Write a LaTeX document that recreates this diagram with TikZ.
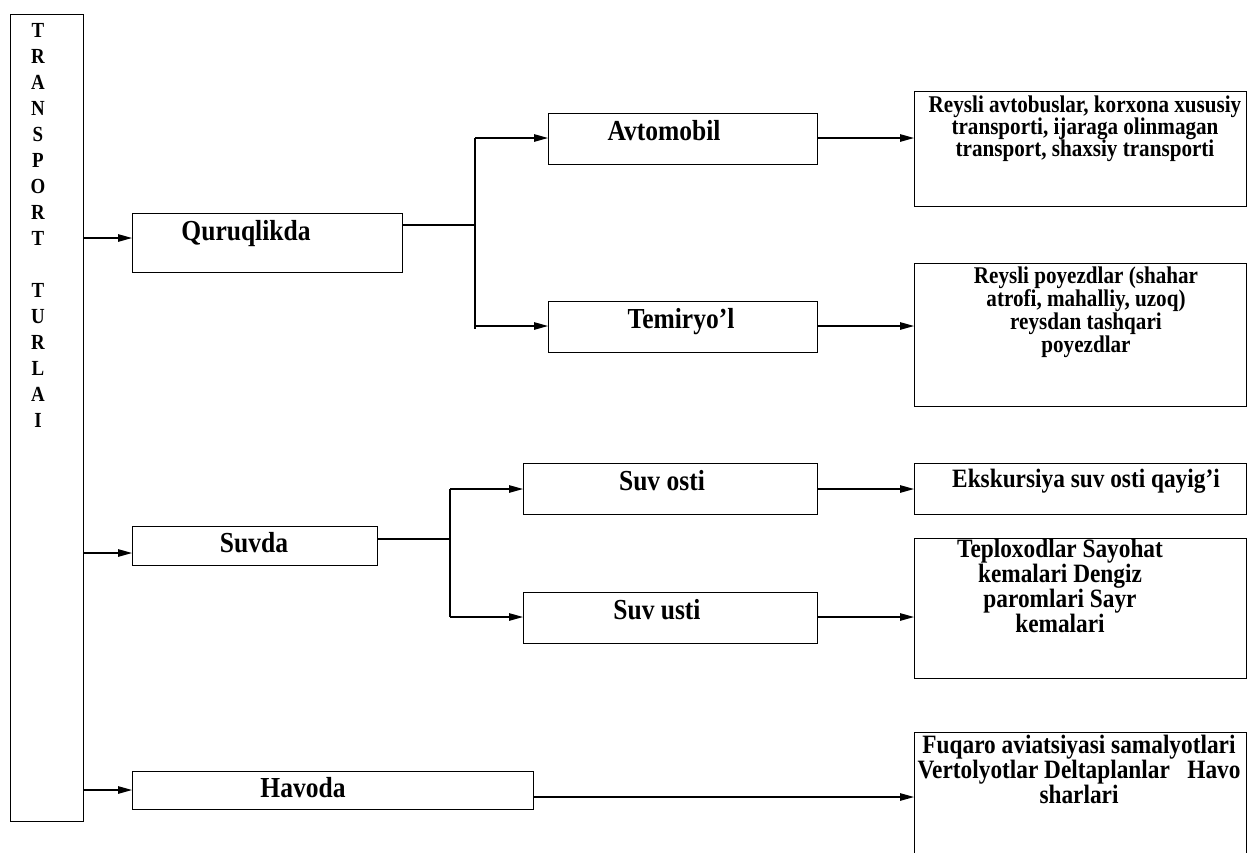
\documentclass[tikz,border=0pt]{standalone}
\usepackage{fontspec}
\setmainfont{Liberation Serif}[FakeStretch=0.88]
\usetikzlibrary{arrows.meta}
\begin{document}
\begin{tikzpicture}[x=1pt,y=-1pt,
  box/.style={draw, line width=1.4pt, inner sep=0pt, anchor=north west},
  con/.style={line width=1.2pt},
  arr/.style={con, -{Triangle[length=14pt,width=7.5pt]}},
  lbl/.style={font=\bfseries\fontsize{29}{30}\selectfont, anchor=base, inner sep=0pt},
  letter/.style={font=\bfseries\fontsize{21.5}{22}\selectfont, anchor=base, inner sep=0pt},
  desc/.style={anchor=base, inner sep=0pt}]
\useasboundingbox (0,0) rectangle (1247,852);
\clip (0,0) rectangle (1247,852);
% boxes
\node[box, minimum width=73pt, minimum height=807pt] (tt) at (10,14) {};
\node[box, minimum width=270pt, minimum height=59pt] (qur) at (132,213) {};
\node[box, minimum width=245pt, minimum height=39pt] (suv) at (132,526) {};
\node[box, minimum width=401pt, minimum height=38pt] (hav) at (132,771) {};
\node[box, minimum width=269pt, minimum height=51pt] (avt) at (548,113) {};
\node[box, minimum width=269pt, minimum height=51pt] (tem) at (548,301) {};
\node[box, minimum width=294pt, minimum height=51pt] (sost) at (523,463) {};
\node[box, minimum width=294pt, minimum height=51pt] (sust) at (523,592) {};
\node[box, minimum width=332pt, minimum height=115pt] (r1) at (914,91) {};
\node[box, minimum width=332pt, minimum height=143pt] (r2) at (914,263) {};
\node[box, minimum width=332pt, minimum height=51pt] (r3) at (914,463) {};
\node[box, minimum width=332pt, minimum height=140pt] (r4) at (914,538) {};
\node[box, minimum width=332pt, minimum height=140pt] (r5) at (914,732) {};
% vertical letters
\foreach \c [count=\k from 0] in {T,R,A,N,S,P,O,R,T}
  \node[letter] (a\k) at (38,37+26*\k) {\c};
\foreach \c [count=\k from 10] in {T,U,R,L,A,I}
  \node[letter] (a\k) at (38,37+26*\k) {\c};
% labels
\node[lbl] (tq) at (246,240) {Quruqlikda};
\node[lbl] (ta) at (664,140) {Avtomobil};
\node[lbl] (tt2) at (681,328) {Temiryo’l};
\node[lbl] (tso) at (662,490) {Suv osti};
\node[lbl] (tsu) at (657,619) {Suv usti};
\node[lbl] (ts) at (254,552) {Suvda};
\node[lbl] (th) at (303,797) {Havoda};
% descriptions
\node[desc] (d1) at (1085,112) {\parbox[t]{330pt}{\centering\bfseries\fontsize{24}{22}\selectfont Reysli avtobuslar, korxona xususiy\\transporti, ijaraga olinmagan\\transport, shaxsiy transporti}};
\node[desc] (d2) at (1086,283) {\parbox[t]{330pt}{\centering\bfseries\fontsize{24}{23}\selectfont Reysli poyezdlar (shahar\\atrofi, mahalliy, uzoq)\\reysdan tashqari\\poyezdlar}};
\node[desc] (d3) at (1086,487) {\parbox[t]{330pt}{\centering\bfseries\fontsize{26.5}{23}\selectfont Ekskursiya suv osti qayig’i}};
\node[desc] (d4) at (1060,557) {\parbox[t]{300pt}{\centering\bfseries\fontsize{26.5}{23}\selectfont Teploxodlar Sayohat\\kemalari Dengiz\\paromlari Sayr\\kemalari}};
\node[desc] (d5) at (1079,753) {\parbox[t]{340pt}{\centering\bfseries\fontsize{26.5}{22}\selectfont Fuqaro aviatsiyasi samalyotlari\\Vertolyotlar Deltaplanlar\ \ \ Havo\\sharlari}};
% connectors from left box
\draw[arr] (tt.east |- 0,238) -- (qur.west |- 0,238);
\draw[arr] (tt.east |- 0,553) -- (suv.west |- 0,553);
\draw[arr] (tt.east |- 0,790) -- (hav.west |- 0,790);
% land branch
\coordinate (j1) at (475,225);
\coordinate (j1t) at (475,138);
\coordinate (j1b) at (475,329);
\draw[con] (qur.east |- j1) -- (j1);
\draw[con] (j1t) -- (j1b);
\draw[arr] (j1t) -- (avt.west |- j1t);
\draw[arr] (475,326) -- (tem.west |- 0,326);
\draw[arr] (avt.east |- 0,138) -- (r1.west |- 0,138);
\draw[arr] (tem.east |- 0,326) -- (r2.west |- 0,326);
% water branch
\coordinate (j2) at (450,539);
\coordinate (j2t) at (450,489);
\coordinate (j2b) at (450,617);
\draw[con] (suv.east |- j2) -- (j2);
\draw[con] (j2t) -- (j2b);
\draw[arr] (j2t) -- (sost.west |- j2t);
\draw[arr] (j2b) -- (sust.west |- j2b);
\draw[arr] (sost.east |- 0,489) -- (r3.west |- 0,489);
\draw[arr] (sust.east |- 0,617) -- (r4.west |- 0,617);
% air
\draw[arr] (hav.east |- 0,797) -- (r5.west |- 0,797);
\end{tikzpicture}
\end{document}
